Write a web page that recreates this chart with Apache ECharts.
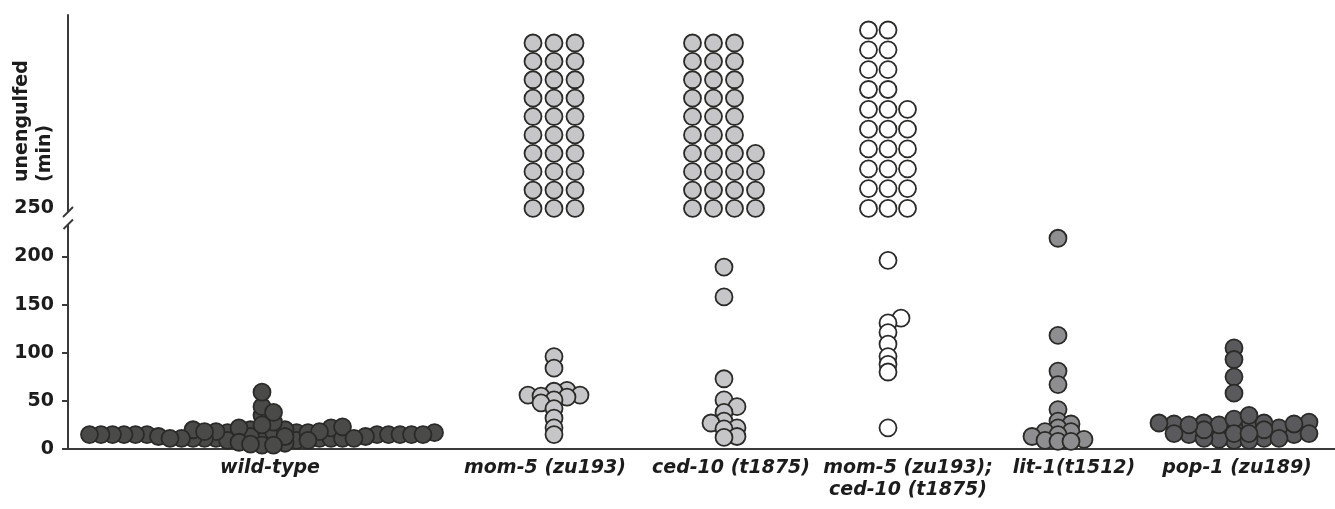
<!DOCTYPE html>
<html>
<head>
<meta charset="utf-8">
<script src="https://cdn.jsdelivr.net/npm/echarts@6/dist/echarts.min.js"></script>
<style>
  html, body { margin: 0; padding: 0; background: #fff; }
  #chart { width: 1335px; height: 509px; }
</style>
</head>
<body>
<div id="chart"></div>
<script>
// genotypes along the x axis
const categories = [
  'wild-type',
  'mom-5 (zu193)',
  'ced-10 (t1875)',
  'mom-5 (zu193);\nced-10 (t1875)',
  'lit-1(t1512)',
  'pop-1 (zu189)'
];

// minutes a dying cell stays unengulfed, one value per cell
const wildType = [11, 20, 17, 9, 11, 17, 11, 15, 18, 11, 15, 9, 18, 13, 18, 6, 20, 11, 15, 22,
  11, 17, 22, 11, 28, 11, 35, 44, 59, 15, 23, 38, 15, 25, 13, 13, 20, 11, 15, 18, 7, 13, 15, 15,
  18, 9, 11, 15, 15, 17, 11, 15, 15, 4, 4, 5];
const mom5 = [96, 84, 61, 60, 56, 56, 55, 54, 51, 48, 42, 32, 22, 15];
const ced10 = [189, 158, 73, 51, 44, 38, 29, 27, 22, 21, 13, 12];
const mom5ced10 = [196, 136, 131, 121, 109, 96, 88, 80, 22];
const lit1 = [219, 118, 81, 67, 41, 29, 26, 22, 18, 18, 15, 13, 10, 9, 8, 8];
const pop1 = [105, 93, 75, 58, 25, 15, 27, 9, 22, 11, 27, 18, 10, 23, 15, 26, 11, 25, 11, 31,
  16, 28, 20, 9, 35, 16, 27, 20, 25, 16, 26, 16];

// cells never engulfed during recording (stacked above 250)
const unengulfed = [0, 30, 34, 26, 0, 0];

const yTicks = [0, 50, 100, 150, 200, 250];

// layout (page pixels along x)
const groupCenter = [262, 554, 724, 888, 1058, 1234];
const labelCenter = [270, 545, 731, 908, 1074, 1237];
const swarmGap = [11.5, 13, 13, 13, 13, 15];
const stackColGap = [0, 21, 21, 19.5, 0, 0];
const stackRowStep = [0, 19.1, 19.1, 20.6, 0, 0];
const fills = ['#4a4a48', '#c6c6c8', '#c6c6c8', '#ffffff', '#8e8e90', '#5a5a5c'];
const groups = [wildType, mom5, ced10, mom5ced10, lit1, pop1];

const font = '"DejaVu Sans", Arial, sans-serif';
const ink = '#1c1c1c';
const dotSize = 17;

const chart = echarts.init(document.getElementById('chart'));

chart.setOption({
  animation: false,
  grid: { left: 68, right: 0, top: 15, bottom: 60 },
  xAxis: {
    type: 'value',
    min: 68,
    max: 1335,
    splitLine: { show: false },
    axisTick: { show: false },
    axisLine: { show: true, lineStyle: { color: '#3a3a3a', width: 2 } },
    axisLabel: {
      customValues: labelCenter,
      formatter: v => categories[labelCenter.indexOf(v)],
      fontFamily: font,
      fontSize: 19,
      fontWeight: 'bold',
      fontStyle: 'italic',
      lineHeight: 22,
      margin: 8,
      color: ink
    }
  },
  yAxis: {
    type: 'value',
    min: 0,
    max: 451,
    splitLine: { show: false },
    axisLine: { show: true, lineStyle: { color: '#3a3a3a', width: 2 } },
    axisTick: {
      show: true,
      customValues: [0, 50, 100, 150, 200],
      length: 6,
      lineStyle: { color: '#3a3a3a', width: 2 }
    },
    axisLabel: {
      customValues: yTicks,
      fontFamily: font,
      fontSize: 19,
      fontWeight: 'bold',
      margin: 14,
      color: ink
    }
  },
  series: []
});

const toPy = v => chart.convertToPixel({ yAxisIndex: 0 }, v);

// beeswarm: spread dots sideways when they sit too close in value
function swarm(values, sx, sy) {
  const pts = values.map(v => ({ v, py: toPy(v), x: 0 }));
  const order = pts.slice().sort((a, b) => a.v - b.v);
  const placed = [];
  let flip = 1;
  order.forEach(p => {
    const near = placed.filter(q => Math.abs(q.py - p.py) < sy);
    const cands = [0];
    near.forEach(q => cands.push(q.x + sx, q.x - sx));
    cands.sort((a, b) => Math.abs(a) - Math.abs(b) || (a - b) * flip);
    for (const c of cands) {
      if (near.every(q => Math.abs(q.x - c) >= sx - 1e-6)) { p.x = c; break; }
    }
    flip = -flip;
    placed.push(p);
  });
  return pts.map(p => p.x);
}

// unengulfed cells: columns of ten, filled bottom-up, left to right
function stack(n, g) {
  const perCol = 10;
  const cols = Math.ceil(n / perCol);
  const out = [];
  for (let i = 0; i < n; i++) {
    const c = Math.floor(i / perCol), r = i % perCol;
    out.push([groupCenter[g] + (c - (cols - 1) / 2) * stackColGap[g], 250 + r * stackRowStep[g]]);
  }
  return out;
}

const dotStyle = fill => ({ color: fill, borderColor: '#2a2a28', borderWidth: 1.8, opacity: 1 });

const series = [];
groups.forEach((vals, g) => {
  const offs = swarm(vals, swarmGap[g], 6.3);
  series.push({
    type: 'scatter',
    symbolSize: dotSize,
    itemStyle: dotStyle(fills[g]),
    emphasis: { disabled: true },
    data: vals.map((v, i) => [groupCenter[g] + offs[i], v])
  });
  if (unengulfed[g]) {
    series.push({
      type: 'scatter',
      symbolSize: dotSize,
      itemStyle: dotStyle(fills[g]),
      emphasis: { disabled: true },
      data: stack(unengulfed[g], g)
    });
  }
});

// axis break mark just under 250
const y250 = toPy(250);
const axisX = 68;
chart.setOption({
  series,
  graphic: [
    {
      type: 'rect',
      shape: { x: axisX - 3, y: y250 + 4, width: 6, height: 12 },
      style: { fill: '#fff' },
      z: 100
    },
    {
      type: 'line',
      shape: { x1: axisX - 5, y1: y250 + 8.5, x2: axisX + 5, y2: y250 - 1.5 },
      style: { stroke: '#3a3a3a', lineWidth: 2 },
      z: 101
    },
    {
      type: 'line',
      shape: { x1: axisX - 4.5, y1: y250 + 20.5, x2: axisX + 5, y2: y250 + 11 },
      style: { stroke: '#3a3a3a', lineWidth: 2 },
      z: 101
    },
    {
      type: 'text',
      x: 34,
      y: 182,
      rotation: Math.PI / 2,
      style: {
        text: 'unengulfed\n(min)',
        fontFamily: font,
        fontSize: 19,
        fontWeight: 'bold',
        lineHeight: 23,
        textAlign: 'left',
        textVerticalAlign: 'middle',
        fill: ink
      },
      z: 101
    }
  ]
});
</script>
</body>
</html>
